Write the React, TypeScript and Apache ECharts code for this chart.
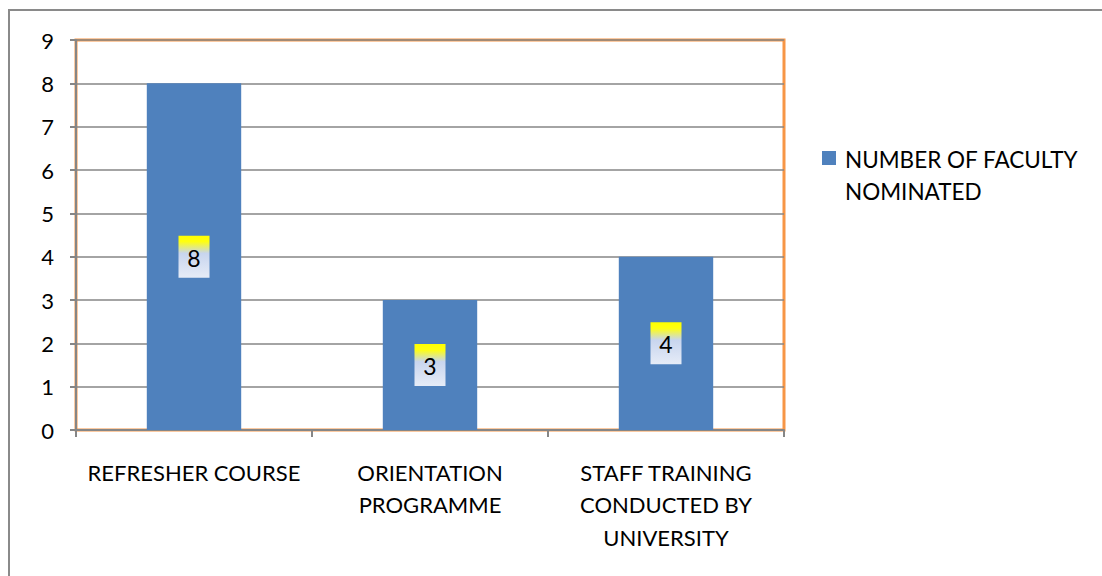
import React, { useEffect, useRef } from "react";
import * as echarts from "echarts";

const categories = ["REFRESHER COURSE", "ORIENTATION\nPROGRAMME", "STAFF TRAINING\nCONDUCTED BY\nUNIVERSITY"];
const values = [8, 3, 4];
const seriesName = "NUMBER OF FACULTY NOMINATED";
const legendLines = ["NUMBER OF FACULTY", "NOMINATED"];
const yMin = 0;
const yMax = 9;
const yInterval = 1;

const FONT = "Lato, 'Liberation Sans', sans-serif";

export default function App() {
  const ref = useRef<HTMLDivElement>(null);
  useEffect(() => {
    if (!ref.current) return;
    const chart = echarts.init(ref.current, undefined, { renderer: "svg" });
    chart.setOption({
      animation: false,
      backgroundColor: "#ffffff",
      textStyle: { fontFamily: FONT },
      grid: {
        left: 76,
        right: 318,
        top: 40,
        bottom: 146,
        show: true,
        borderColor: "#F79646",
        borderWidth: 3,
        backgroundColor: "transparent",
      },
      xAxis: {
        type: "category",
        data: categories,
        axisLine: { show: true, lineStyle: { color: "#868686", width: 2 } },
        axisTick: { show: true, length: 7, lineStyle: { color: "#868686", width: 2 } },
        axisLabel: {
          color: "#000",
          fontSize: 22,
          fontFamily: FONT,
          lineHeight: 32.5,
          margin: 26,
          align: "center",
          interval: 0,
          hideOverlap: false,
        },
      },
      yAxis: {
        type: "value",
        min: yMin,
        max: yMax,
        interval: yInterval,
        axisLine: { show: true, lineStyle: { color: "#868686", width: 2 } },
        axisTick: { show: true, length: 6, lineStyle: { color: "#868686", width: 2 } },
        axisLabel: { color: "#000", fontSize: 22, fontFamily: FONT, margin: 22 },
        splitLine: { show: true, lineStyle: { color: "#868686", width: 1.5 } },
      },
      series: [
        {
          name: seriesName,
          type: "bar",
          data: values,
          barWidth: "40%",
          itemStyle: { color: "#4F81BD" },
          z: 2,
        },
        {
          type: "custom",
          data: values.map((v, i) => [i, v]),
          z: 5,
          renderItem: (params: any, api: any) => {
            const v = api.value(1);
            const pt = api.coord([api.value(0), v / 2]);
            const w = 31;
            const h = 42;
            return {
              type: "group",
              children: [
                {
                  type: "rect",
                  shape: { x: pt[0] - w / 2, y: pt[1] - h / 2, width: w, height: h },
                  style: {
                    fill: new echarts.graphic.LinearGradient(0, 0, 0, 1, [
                      { offset: 0, color: "#FFFF00" },
                      { offset: 0.14, color: "#FFFF10" },
                      { offset: 0.42, color: "#C8D5EE" },
                      { offset: 1, color: "#E6ECF7" },
                    ]),
                  },
                },
                {
                  type: "text",
                  x: pt[0],
                  y: pt[1] + 1,
                  style: {
                    text: String(v),
                    fill: "#000",
                    fontSize: 23,
                    fontFamily: FONT,
                    align: "center",
                    verticalAlign: "middle",
                  },
                },
              ],
            };
          },
        },
      ],
      graphic: [
        {
          type: "rect",
          shape: { x: 9, y: 10, width: 1200, height: 700 },
          style: { fill: "none", stroke: "#8A8A8A", lineWidth: 2 },
          silent: true,
        },
        {
          type: "rect",
          shape: { x: 822, y: 151, width: 14, height: 14 },
          style: { fill: "#4F81BD" },
        },
        {
          type: "text",
          left: 845,
          top: 143,
          style: {
            text: legendLines.join("\n"),
            fill: "#000",
            fontSize: 22.5,
            fontFamily: FONT,
            lineHeight: 32,
            verticalAlign: "top",
          },
        },
      ],
    });
    return () => chart.dispose();
  }, []);
  return (
    <div
      ref={ref}
      style={{ position: "fixed", left: 0, top: 0, width: 1102, height: 576 }}
    />
  );
}
